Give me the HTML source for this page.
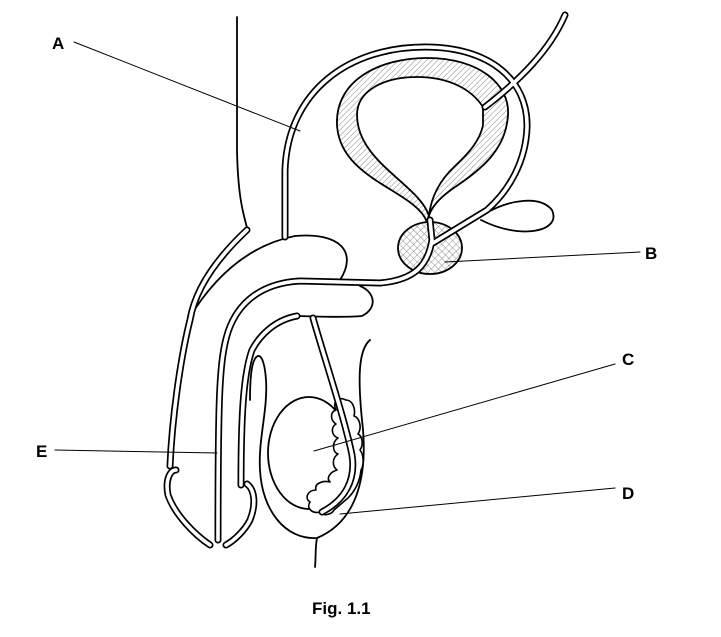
<!DOCTYPE html>
<html><head><style>
html,body{margin:0;padding:0;background:#fff;}
svg{display:block;}
text{font-family:"Liberation Sans",Arial,sans-serif;font-weight:bold;fill:#000;}
</style></head><body>
<svg width="721" height="637" viewBox="0 0 721 637" xmlns="http://www.w3.org/2000/svg">
<defs>
<pattern id="hatch" width="4" height="4" patternUnits="userSpaceOnUse" patternTransform="rotate(45)">
<line x1="0" y1="0" x2="0" y2="4" stroke="#888" stroke-width="1"/>
</pattern>
<pattern id="xhatch" width="5" height="5" patternUnits="userSpaceOnUse" patternTransform="rotate(45)">
<line x1="0" y1="0" x2="0" y2="5" stroke="#777" stroke-width="0.8"/>
<line x1="0" y1="0" x2="5" y2="0" stroke="#777" stroke-width="0.8"/>
</pattern>
</defs>
<g fill="none" stroke="#000" stroke-linecap="round" stroke-linejoin="round">
<path d="M237,17 L237,150 C238,200 244,215 247,228" stroke-width="1.8"/>

<path d="M427,222 C415,190 340,180 337,125 C335,80 380,58 427,58 C480,58 510,85 508,115 C506,150 480,170 458,185 C440,197 430,207 427,222 Z" fill="url(#hatch)" stroke-width="1.8"/>
<path d="M429,216 C420,185 357,162 357,115 C357,90 385,77 417,77 C450,77 472,90 483,107 L483,125 C480,140 470,152 455,166 C440,180 431,197 429,216 Z" fill="#fff" stroke-width="1.8"/>

<ellipse cx="430" cy="248" rx="32" ry="26" fill="url(#xhatch)" stroke-width="1.8"/>

<path d="M488,212 C510,200 540,195 552,210 C562,232 520,240 481,220" fill="#fff" stroke-width="1.8"/>

<path d="M188,320 C215,275 250,245 295,236 C340,232 358,252 340,280" fill="#fff" stroke-width="1.8"/>
<path d="M360,286 C375,292 378,308 362,316 C340,318 310,316 297,316" fill="#fff" stroke-width="1.8"/>

<path d="M370,340 C358,350 358,380 362,420 C368,470 360,520 317,538 C285,540 262,510 260,470 C258,440 268,410 266,380 C265,365 262,355 258,356 C252,358 250,375 250,400" fill="none" stroke-width="1.8"/>
<path d="M317,538 C315,548 316,558 315,567" stroke-width="1.8"/>
<ellipse cx="309" cy="453" rx="41" ry="56" fill="#fff" stroke-width="1.8"/>
<!-- epididymis -->
<path d="M346,400 C338,396 332,402 336,410 C330,412 330,420 336,424 C330,428 332,436 338,438 C332,442 332,452 338,454 C332,458 332,466 337,470 C330,472 326,478 330,482 C322,480 314,484 316,490 C308,490 304,498 310,502 C306,508 312,514 320,512 C324,517 332,514 334,510 L348,498 C356,490 360,480 361,470 C364,465 364,455 360,450 C364,444 362,436 358,434 C362,428 360,418 354,416 C356,408 352,400 346,400 Z" fill="#fff" stroke-width="1.6"/>

<g stroke-width="7">
<path d="M285,237 L285,170 C288,90 350,47 425,47 C490,47 528,80 527,127 C526,160 510,190 487,210 L433,243"/>
<path d="M565,15 C550,50 520,80 485,107"/>
<path d="M430,220 L432,240 C428,265 415,280 380,283 L300,281 C262,283 238,302 228,332 C219,360 218,400 218,540"/>
<path d="M247,230 C215,260 195,290 190,320 C180,360 172,420 170,466"/>
<path d="M176,470 C170,470 165,480 168,495 C175,515 195,535 210,545"/>
<path d="M297,316 C275,320 260,335 252,350 C243,375 241,420 241,485"/>
<path d="M247,484 C255,490 256,505 250,520 C245,530 235,540 226,545"/>
<path d="M313,318 C325,360 345,420 352,455 C356,480 345,500 322,512"/>
</g>
<g stroke="#fff" stroke-width="3.6">
<path d="M285,237 L285,170 C288,90 350,47 425,47 C490,47 528,80 527,127 C526,160 510,190 487,210 L433,243"/>
<path d="M565,15 C550,50 520,80 485,107"/>
<path d="M430,220 L432,240 C428,265 415,280 380,283 L300,281 C262,283 238,302 228,332 C219,360 218,400 218,540"/>
<path d="M247,230 C215,260 195,290 190,320 C180,360 172,420 170,466"/>
<path d="M176,470 C170,470 165,480 168,495 C175,515 195,535 210,545"/>
<path d="M297,316 C275,320 260,335 252,350 C243,375 241,420 241,485"/>
<path d="M247,484 C255,490 256,505 250,520 C245,530 235,540 226,545"/>
<path d="M313,318 C325,360 345,420 352,455 C356,480 345,500 322,512"/>
</g>

<g stroke-width="1">
<line x1="74" y1="42" x2="300" y2="131"/>
<line x1="640" y1="252" x2="445" y2="262"/>
<line x1="615" y1="364" x2="314" y2="451"/>
<line x1="615" y1="488" x2="340" y2="514"/>
<line x1="55" y1="450" x2="217" y2="453"/>
</g>
</g>
<text x="52" y="49" font-size="17">A</text>
<text x="645" y="259" font-size="17">B</text>
<text x="622" y="365" font-size="17">C</text>
<text x="622" y="499" font-size="17">D</text>
<text x="36" y="457" font-size="17">E</text>
<text x="312" y="614" font-size="17">Fig. 1.1</text>
</svg>
</body></html>
